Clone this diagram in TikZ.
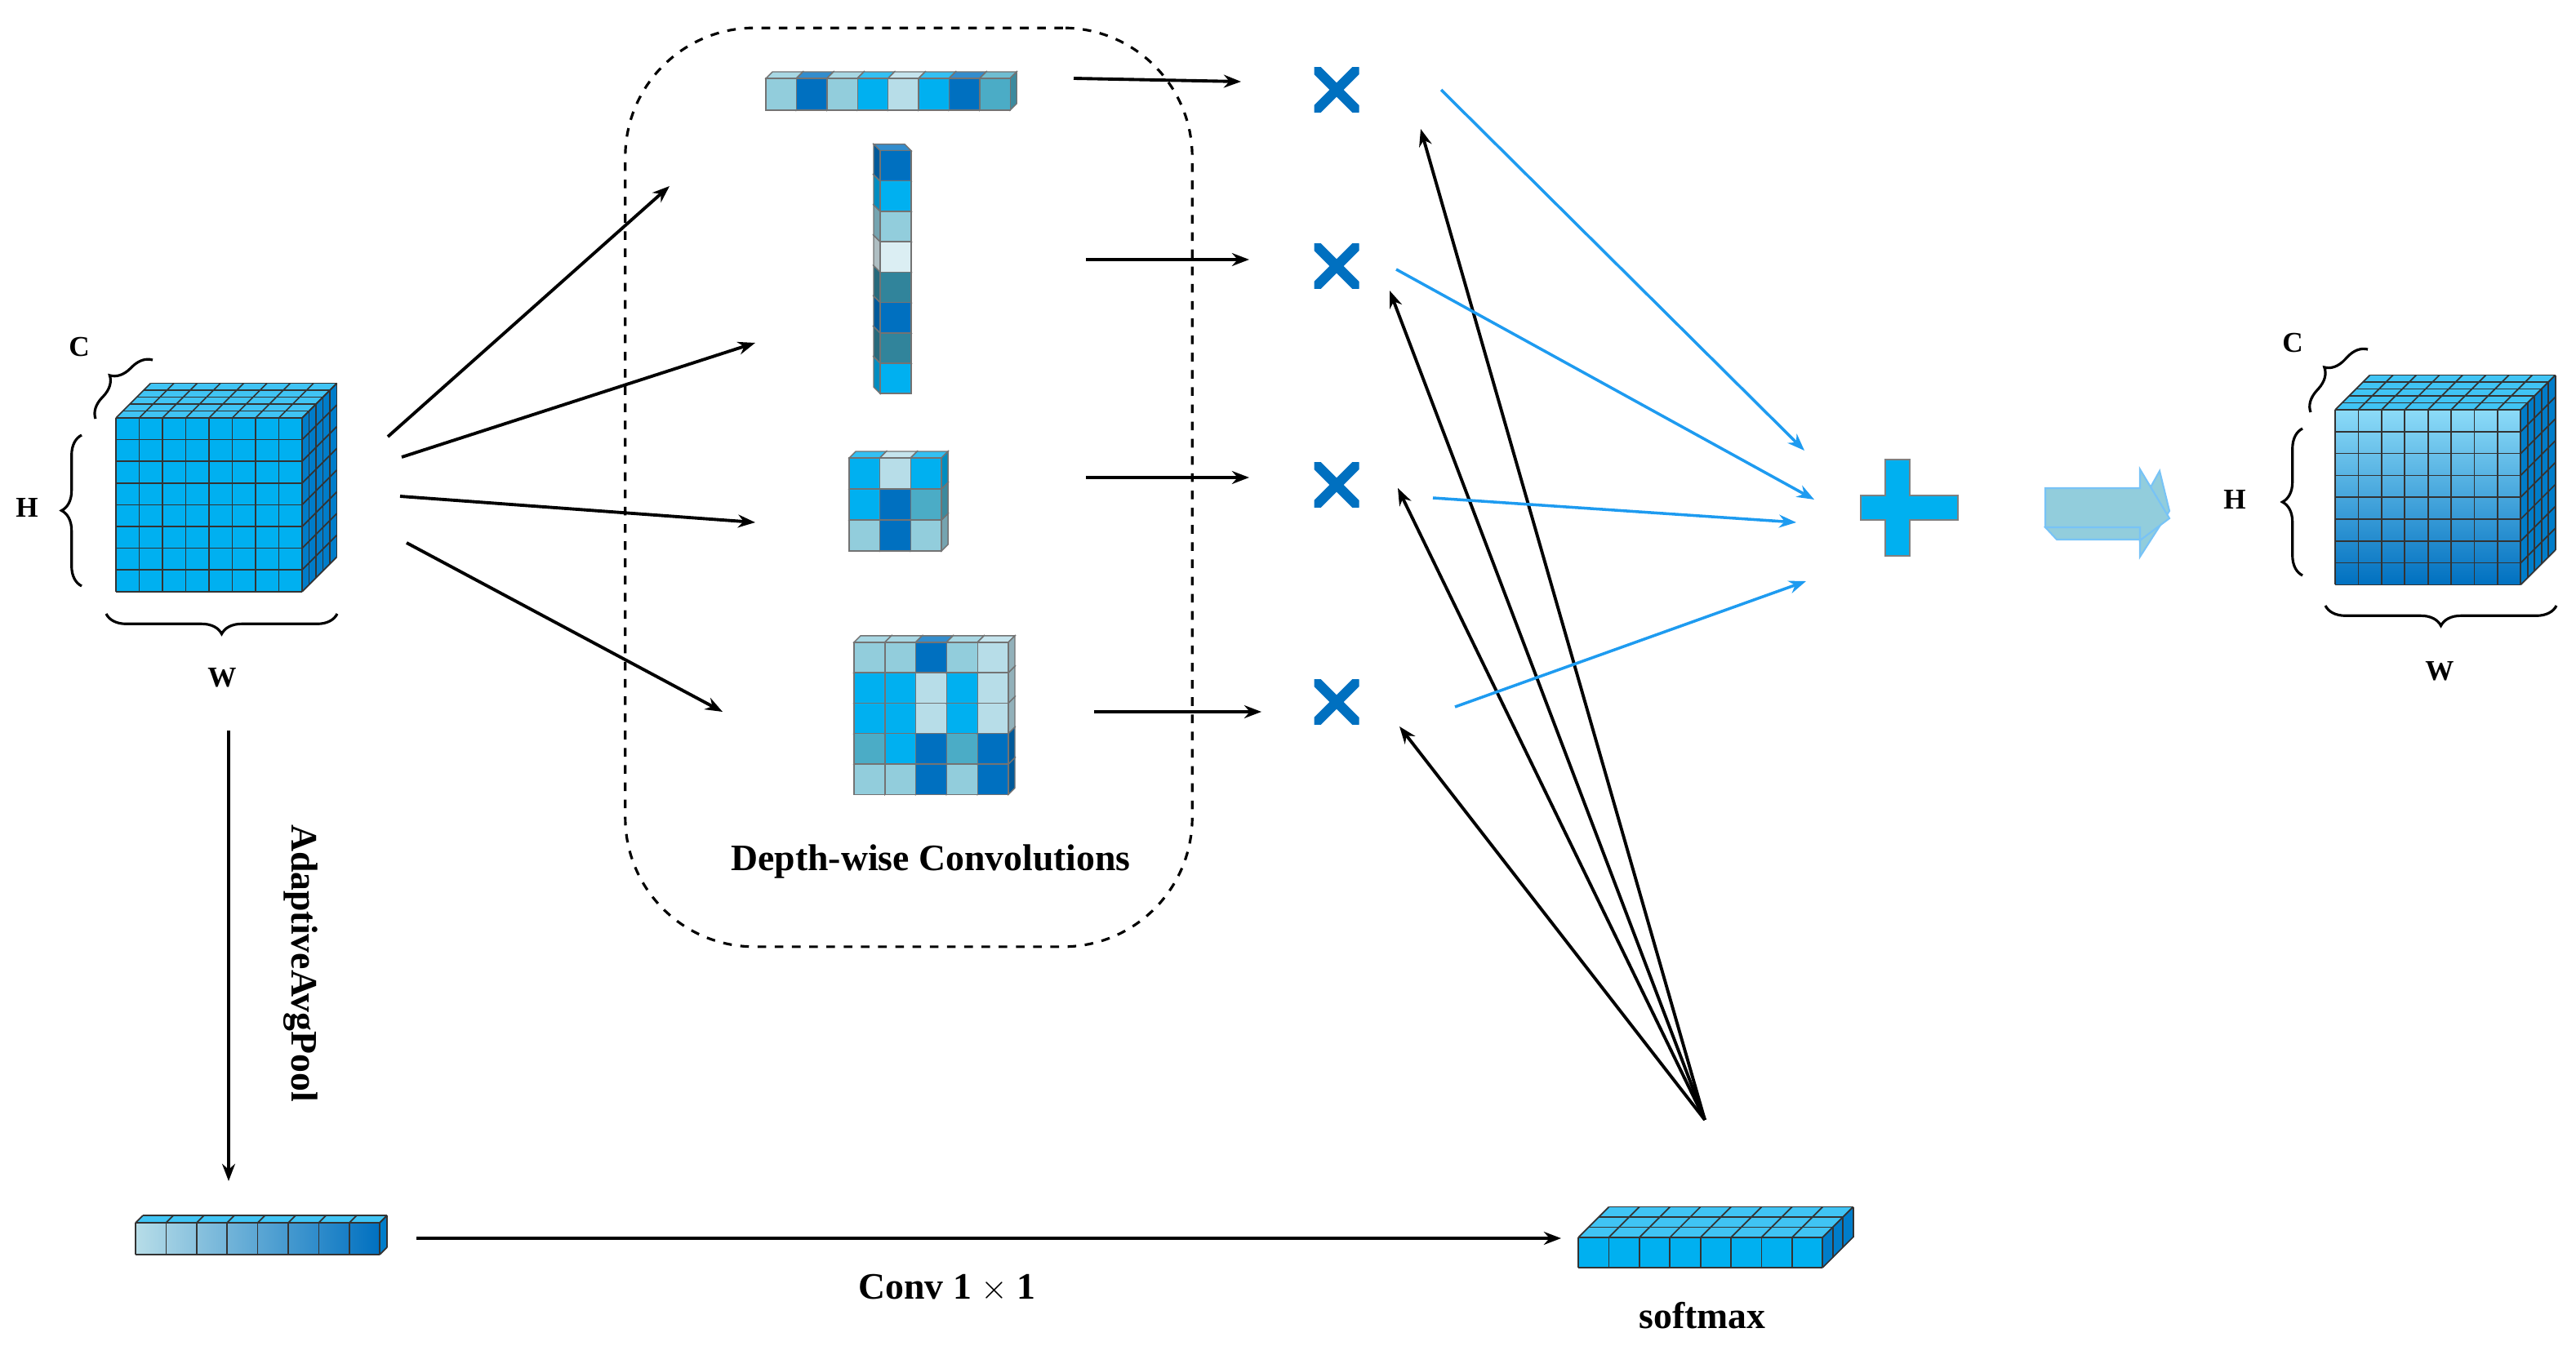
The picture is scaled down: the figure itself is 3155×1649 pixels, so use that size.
\documentclass[tikz,border=0pt]{standalone}
\usepackage{fontspec}
\setmainfont{Liberation Serif}
\usetikzlibrary{arrows.meta,decorations.pathreplacing,positioning,calc}

\definecolor{kA}{HTML}{92CDDC}
\definecolor{kB}{HTML}{0070C0}
\definecolor{kC}{HTML}{00B0F0}
\definecolor{kD}{HTML}{B7DDE8}
\definecolor{kE}{HTML}{4BACC6}
\definecolor{kF}{HTML}{31849B}
\definecolor{kG}{HTML}{DBEEF3}
\definecolor{arrblue}{HTML}{1E9BF0}

\tikzset{
  topface/.style={fill=kC!75!white},
  sideface/.style={fill=kB!80!kC},
  gridln/.style={draw=black!80, line width=0.5pt},
  arr/.style={-{Stealth[length=6pt,width=4.5pt]}, line width=1.1pt},
  barr/.style={-{Stealth[length=6pt,width=4.5pt]}, line width=1pt, arrblue},
  brc/.style={decorate, decoration={brace, amplitude=7pt}, line width=0.9pt},
  lbl/.style={font=\fontsize{13}{15}\selectfont\bfseries},
  dim/.style={font=\fontsize{10}{12}\selectfont\bfseries},
  mult/.style={minimum size=0.55cm, inner sep=0pt, path picture={
      \draw[kB, line width=3.5pt] (path picture bounding box.north west)--(path picture bounding box.south east)
        (path picture bounding box.south west)--(path picture bounding box.north east);}},
}

% x0,y0,nx,ny,nd,cw,ch,dd,front fill
\newcommand{\gridbox}[9]{%
  \fill[topface] (#1,#2)--++(#5*#8,-#5*#8)--++(#3*#6,0)--++(-#5*#8,#5*#8)--cycle;
  \fill[sideface] (#1+#3*#6,#2)--++(#5*#8,-#5*#8)--++(0,#4*#7)--++(-#5*#8,#5*#8)--cycle;
  \foreach \i in {0,...,#3} \draw[gridln] (#1+\i*#6,#2)--++(#5*#8,-#5*#8);
  \foreach \k in {0,...,#5} \draw[gridln] (#1+\k*#8,#2-\k*#8)--++(#3*#6,0);
  \foreach \k in {0,...,#5} \draw[gridln] (#1+#3*#6+\k*#8,#2-\k*#8)--++(0,#4*#7);
  \foreach \j in {0,...,#4} \draw[gridln] (#1+#3*#6,#2+\j*#7)--++(#5*#8,-#5*#8);
  \fill[#9] (#1,#2) rectangle ++(#3*#6,#4*#7);
  \foreach \i in {0,...,#3} \draw[gridln] (#1+\i*#6,#2)--++(0,#4*#7);
  \foreach \j in {0,...,#4} \draw[gridln] (#1,#2+\j*#7)--++(#3*#6,0);
}

% x,y,w,h,dx,dy,colour,side offset
\newcommand{\kcell}[8]{%
  \filldraw[fill=#7!80!white, draw=black!55, line width=0.4pt] (#1,#2)--++(#5,-#6)--++(#3,0)--++(-#5,#6)--cycle;
  \filldraw[fill=#7!80!black, draw=black!55, line width=0.4pt] (#1+#8,#2)--++(#5,-#6)--++(0,#4)--++(-#5,#6)--cycle;
  \filldraw[fill=#7, draw=black!55, line width=0.4pt] (#1,#2) rectangle ++(#3,#4);
}

\begin{document}
\begin{tikzpicture}[x=0.01cm, y=-0.01cm]
  \useasboundingbox (0,0) rectangle (3155,1649);

  % input feature map
  \gridbox{142}{512}{8}{8}{5}{28.5}{26.6}{8.5}{kC}
  \node[coordinate] (incube) at (256,618) {};
  \draw[brc] (100,718)--(100,533);
  \node[dim] (hin) at (33,622) {H};
  \draw[brc] (413,752)--(130,752);
  \node[dim] (win) at (272,830) {W};
  \draw[brc] (117,513)--(187,441);
  \node[dim] (cin) at (97,425) {C};

  % output feature map
  \gridbox{2860}{502}{8}{8}{5}{28.4}{26.8}{8.5}{top color=kC!45!white, bottom color=kB}
  \draw[brc] (2820,705)--(2820,525);
  \node[dim] (hout) at (2737,612) {H};
  \draw[brc] (3131,742)--(2848,742);
  \node[dim] (wout) at (2988,822) {W};
  \draw[brc] (2830,505)--(2900,428);
  \node[dim] (cout) at (2808,420) {C};

  % depth-wise kernels
  \node[draw, dashed, rounded corners=45, line width=0.9pt, minimum width=6.94cm, minimum height=11.25cm] (dwbox) at (1113,597) {};
  \node[lbl] (dwlabel) at (1140,1055) {Depth-wise Convolutions};

  \foreach \c [count=\i from 0] in {kA,kB,kA,kC,kD,kC,kB,kE}
    \kcell{938+\i*37.4}{96}{37.4}{39}{8}{8}{\c}{37.4};
  \foreach \c [count=\i from 0] in {kC,kF,kB,kF,kG,kA,kC,kB}
    \kcell{1078}{445-\i*37.2}{38}{37.2}{-8}{8}{\c}{0};
  \foreach \row [count=\j from 0] in {{kA,kB,kA},{kC,kB,kE},{kC,kD,kC}}
    \foreach \c [count=\i from 0] in \row
      \kcell{1040+\i*37.7}{637-\j*38}{37.7}{38}{8}{8}{\c}{37.7};
  \foreach \row [count=\j from 0] in {{kA,kA,kB,kA,kB},{kE,kC,kB,kE,kB},{kC,kC,kD,kC,kD},{kC,kC,kD,kC,kD},{kA,kA,kB,kA,kD}}
    \foreach \c [count=\i from 0] in \row
      \kcell{1046+\i*37.8}{936-\j*37.3}{37.8}{37.3}{8}{8}{\c}{37.8};

  % multiplications and sum
  \node[mult] (m1) at (1637,110) {};
  \node[mult] (m2) at (1637,326) {};
  \node[mult] (m3) at (1637,594) {};
  \node[mult] (m4) at (1637,860) {};
  \fill[kC, draw=gray, line width=0.5pt] (2309,563) rectangle ++(30,118);
  \fill[kC, draw=gray, line width=0.5pt] (2279,607) rectangle ++(119,30);
  \fill[kC] (2310,564) rectangle ++(28,116);
  \node[coordinate] (plus) at (2338,622) {};

  % big arrow
  \filldraw[fill=kA, draw=arrblue!60, line width=0.6pt] (2505,646)--++(14,15)--++(102,0)--++(0,21)--++(36,-56)--++(-12,-49)--++(-24,43)--cycle;
  \filldraw[fill=kA, draw=arrblue!60, line width=0.6pt] (2505,598)--(2621,598)--(2621,575)--(2657,635)--(2621,662)--(2621,646)--(2505,646)--cycle;

  % pooled vector and softmax weights
  \gridbox{166}{1498}{8}{1}{1}{37.4}{39}{9}{left color=kD, right color=kB}
  \gridbox{1933}{1516}{8}{1}{3}{37.4}{37}{12.5}{kC}
  \node[lbl] (smlabel) at (2085,1612) {softmax};
  \node[lbl] (convlabel) at (1160,1578) {Conv 1 $\times$ 1};
  \node[lbl, rotate=-90] (poollabel) at (368,1180) {AdaptiveAvgPool};

  % edges
  \coordinate (s1) at (475,535);  \coordinate (t1) at (820,228);
  \coordinate (s2) at (492,560);  \coordinate (t2) at (925,420);
  \coordinate (s3) at (490,608);  \coordinate (t3) at (925,640);
  \coordinate (s4) at (498,665);  \coordinate (t4) at (885,872);
  \foreach \k in {1,...,4} \draw[arr] (s\k) -- (t\k);

  \coordinate (k1) at (1315,96);  \coordinate (e1) at (1520,100);
  \coordinate (k2) at (1330,318); \coordinate (e2) at (1530,318);
  \coordinate (k3) at (1330,585); \coordinate (e3) at (1530,585);
  \coordinate (k4) at (1340,872); \coordinate (e4) at (1545,872);
  \foreach \k in {1,...,4} \draw[arr] (k\k) -- (e\k);

  \coordinate (smtop) at (2088,1372);
  \coordinate (w1) at (1740,158); \coordinate (w2) at (1702,356);
  \coordinate (w3) at (1712,598); \coordinate (w4) at (1714,890);
  \foreach \k in {1,...,4} \draw[arr] (smtop) -- (w\k);

  \coordinate (b1) at (1765,110);  \coordinate (p1) at (2210,552);
  \coordinate (b2) at (1710,330);  \coordinate (p2) at (2222,612);
  \coordinate (b3) at (1755,610);  \coordinate (p3) at (2200,640);
  \coordinate (b4) at (1782,866);  \coordinate (p4) at (2212,712);
  \foreach \k in {1,...,4} \draw[barr] (b\k) -- (p\k);

  \coordinate (poolsrc) at (280,895); \coordinate (pooldst) at (280,1447);
  \draw[arr] (poolsrc) -- (pooldst);
  \coordinate (convsrc) at (510,1517); \coordinate (convdst) at (1912,1517);
  \draw[arr] (convsrc) -- (convdst);
\end{tikzpicture}
\end{document}
